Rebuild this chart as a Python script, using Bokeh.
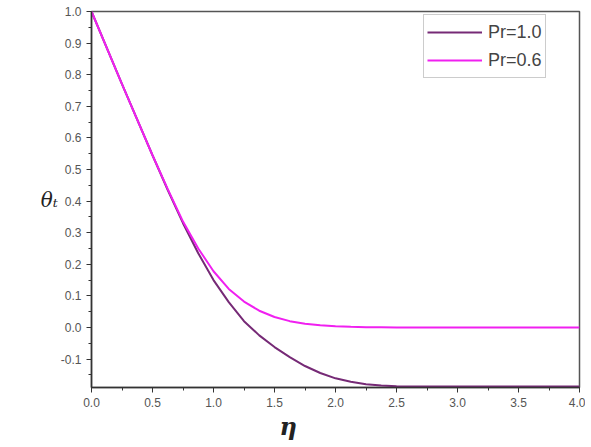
from bokeh.plotting import figure
from bokeh.models import FixedTicker, PrintfTickFormatter, Legend, LegendItem, Title, Range1d
from bokeh.embed import file_html
from bokeh.resources import INLINE

eta = [0.0, 0.25, 0.5, 0.625, 0.75, 0.875, 1.0, 1.125, 1.25, 1.375, 1.5, 1.625, 1.75, 1.875,
       2.0, 2.125, 2.25, 2.375, 2.5, 2.75, 3.0, 3.5, 4.0]
theta_pr10 = [1.0, 0.77, 0.545, 0.435, 0.33, 0.235, 0.15, 0.08, 0.02, -0.025, -0.062, -0.094,
              -0.122, -0.144, -0.161, -0.172, -0.18, -0.184, -0.186, -0.187, -0.187, -0.187, -0.187]
theta_pr06 = [1.0, 0.77, 0.545, 0.438, 0.335, 0.25, 0.178, 0.122, 0.082, 0.053, 0.033, 0.02,
              0.012, 0.007, 0.004, 0.002, 0.001, 0.0005, 0.0, 0.0, 0.0, 0.0, 0.0]
x_ticks = [0.0, 0.5, 1.0, 1.5, 2.0, 2.5, 3.0, 3.5, 4.0]
y_ticks = [-0.1, 0.0, 0.1, 0.2, 0.3, 0.4, 0.5, 0.6, 0.7, 0.8, 0.9, 1.0]

p = figure(width=585, height=445, output_backend="svg", toolbar_location=None,
           x_range=Range1d(0, 4), y_range=Range1d(-0.19, 1.0),
           min_border_left=91, min_border_right=6, min_border_top=11, min_border_bottom=58)
p.grid.visible = False
p.outline_line_color = "#555555"
p.outline_line_width = 1.5
p.background_fill_color = "white"
p.border_fill_color = "white"

p.xaxis.ticker = FixedTicker(ticks=x_ticks, minor_ticks=[i * 0.25 for i in range(17)])
p.yaxis.ticker = FixedTicker(ticks=y_ticks, minor_ticks=[-0.15 + i * 0.05 for i in range(24)])
p.xaxis.formatter = PrintfTickFormatter(format="%.1f")
p.yaxis.formatter = PrintfTickFormatter(format="%.1f")
for ax in (p.xaxis, p.yaxis):
    ax.axis_line_color = "#333333"
    ax.axis_line_width = 1.5
    ax.major_tick_line_color = "#333333"
    ax.minor_tick_line_color = "#333333"
    ax.major_tick_in = 0
    ax.major_tick_out = 5
    ax.minor_tick_in = 0
    ax.minor_tick_out = 3
    ax.major_label_text_font = "Liberation Sans"
    ax.major_label_text_font_size = "12px"
    ax.major_label_text_color = "#555555"

p.yaxis.axis_label = "θₜ"
p.yaxis.axis_label_text_font = "DejaVu Serif"
p.yaxis.axis_label_text_font_style = "italic"
p.yaxis.axis_label_text_font_size = "20px"
p.yaxis.axis_label_text_color = "#222222"
p.yaxis.axis_label_standoff = 0
try:
    p.yaxis.axis_label_orientation = "horizontal"
except Exception:
    pass

l1 = p.line(eta, theta_pr10, line_color="#762a76", line_width=2)
l2 = p.line(eta, theta_pr06, line_color="#f020f0", line_width=2)

legend = Legend(items=[LegendItem(label="Pr=1.0", renderers=[l1]),
                       LegendItem(label="Pr=0.6", renderers=[l2])],
                location=(332, 309), label_text_font="Liberation Sans",
                label_text_font_size="18px", glyph_width=55, spacing=0,
                padding=3, margin=0, border_line_color="#999999",
                label_standoff=6, glyph_height=28, label_height=28)
p.add_layout(legend, "center")

p.add_layout(Title(text="η", align="left", offset=188, text_font="DejaVu Serif",
                   text_font_style="bold italic", text_font_size="24px",
                   text_color="#222222", standoff=0), "below")

open("out.html", "w").write(file_html(p, INLINE))
